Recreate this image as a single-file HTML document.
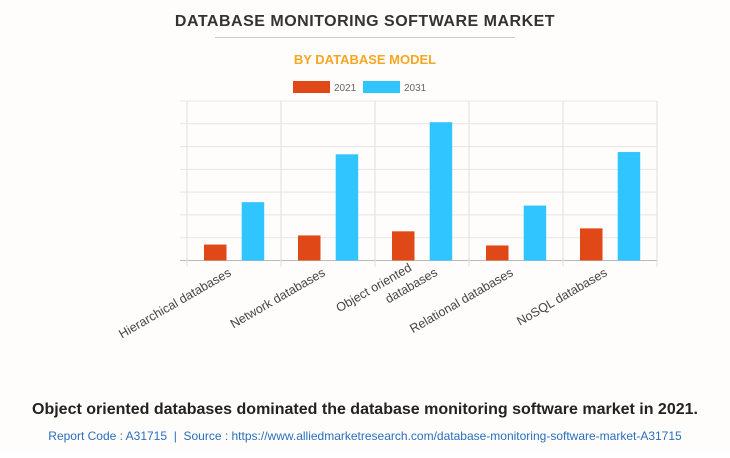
<!DOCTYPE html>
<html><head><meta charset="utf-8"><style>
body{margin:0;background:#fff;}
svg text{font-family:"Liberation Sans",Arial,sans-serif;}
</style></head><body>
<svg width="730" height="453" viewBox="0 0 730 453">
<rect x="0" y="0" width="730" height="453" fill="#fefdfc"/>
<text x="365" y="26" text-anchor="middle" font-size="16" font-weight="bold" fill="#333" letter-spacing="0.5">DATABASE MONITORING SOFTWARE MARKET</text>
<line x1="215" y1="37.5" x2="515" y2="37.5" stroke="#ccc" stroke-width="1"/>
<text x="365" y="64" text-anchor="middle" font-size="13" font-weight="bold" fill="#f5a623">BY DATABASE MODEL</text>
<g>
<g><rect x="293" y="81" width="37" height="12" fill="#e04817"/><text x="334" y="91" font-size="10" fill="#666">2021</text></g>
<g><rect x="363" y="81" width="37" height="12" fill="#31c5ff"/><text x="404" y="91" font-size="10" fill="#666">2031</text></g>
</g>
<g id="plot"></g>
<text x="365" y="414" text-anchor="middle" font-size="16" font-weight="bold" fill="#222">Object oriented databases dominated the database monitoring software market in 2021.</text>
<text x="365" y="440" text-anchor="middle" font-size="12" fill="#2a6ebb">Report Code : A31715 &#160;|&#160; Source : https://www.alliedmarketresearch.com/database-monitoring-software-market-A31715</text>
</svg>
<script>
const categories=[["Hierarchical databases"],["Network databases"],["Object oriented","databases"],["Relational databases"],["NoSQL databases"]];
const values2021=[0.70,1.10,1.28,0.66,1.41];
const values2031=[2.56,4.66,6.07,2.41,4.76];
const yTicks=[0,1,2,3,4,5,6,7];
const NS="http://www.w3.org/2000/svg";
const g=document.getElementById('plot');
const x0=187,x1=657,yb=260.5,yt=101,ymax=7;
const bw=(x1-x0)/categories.length;
function y(v){return yb-(v/ymax)*(yb-yt);}
function mk(t,a){const e=document.createElementNS(NS,t);for(const k in a)e.setAttribute(k,a[k]);g.appendChild(e);return e;}
yTicks.forEach(v=>{const l=mk('line',{x1:180,x2:x1,y1:y(v),y2:y(v),stroke:v==0?'#bbb':'#e6e6e6','stroke-width':1});

});
for(let i=0;i<=categories.length;i++){const l=mk('line',{x1:x0+i*bw,x2:x0+i*bw,y1:yt,y2:yb+6,stroke:'#e0e0e0','stroke-width':1});

}
categories.forEach((c,i)=>{
const cx=x0+i*bw;
const r=mk('rect',{x:cx+17,y:y(values2021[i]),width:22.5,height:yb-y(values2021[i]),fill:'#e04817'});


const b=mk('rect',{x:cx+54.7,y:y(values2031[i]),width:22.5,height:yb-y(values2031[i]),fill:'#31c5ff'});


const ax=cx+bw/2-2, ay=275;
const t=mk('text',{x:ax,y:ay,'text-anchor':'end','font-size':12.5,fill:'#444',transform:`rotate(-30 ${ax} ${ay})`});


c.forEach((line,j)=>{const s=document.createElementNS(NS,'tspan');s.setAttribute('x',ax+(c.length>1?(j==0?-4:16):0));s.setAttribute('dy',j==0?(c.length>1?-8:0):17);s.textContent=line;t.appendChild(s);});
});
</script>
</body></html>
